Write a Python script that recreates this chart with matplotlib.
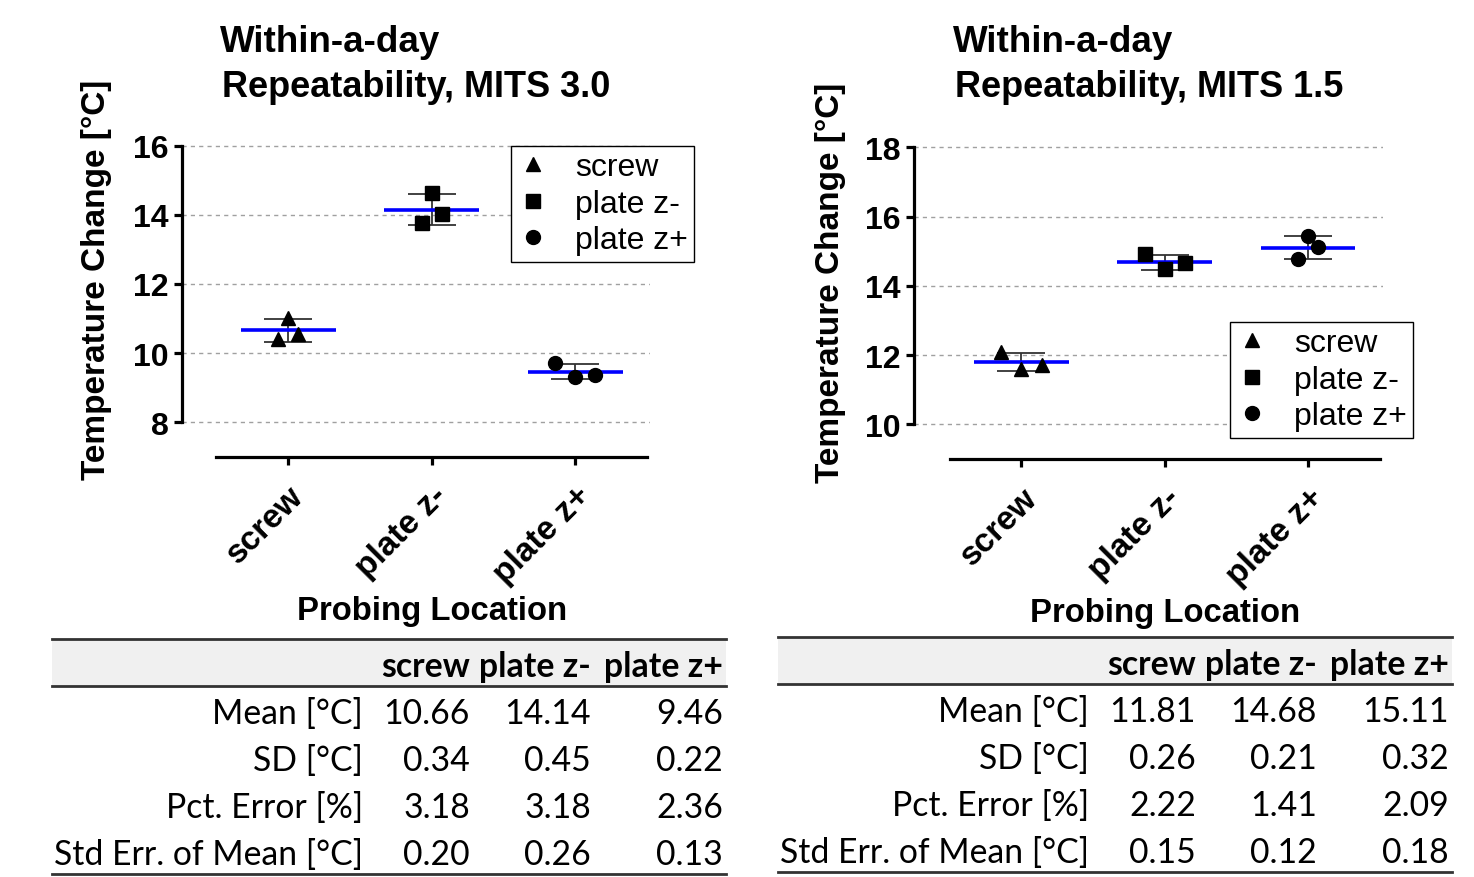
import numpy as np
import matplotlib
matplotlib.use('Agg')
import matplotlib.pyplot as plt
from matplotlib.patches import Rectangle

plt.rcParams['font.family'] = ['Liberation Sans', 'DejaVu Sans']

locations = ['screw', 'plate z-', 'plate z+']
markers = ['^', 's', 'o']
row_labels = ['Mean [°C]', 'SD [°C]', 'Pct. Error [%]', 'Std Err. of Mean [°C]']

# MITS 3.0 - three repeats per probing location
mits30_points = [[10.40, 11.02, 10.56], [13.76, 14.63, 14.03], [9.72, 9.30, 9.36]]
mits30_mean = [10.66, 14.14, 9.46]
mits30_sd = [0.34, 0.45, 0.22]
mits30_pct = [3.18, 3.18, 2.36]
mits30_sem = [0.20, 0.26, 0.13]

# MITS 1.5
mits15_points = [[12.10, 11.60, 11.73], [14.92, 14.48, 14.65], [14.78, 15.43, 15.12]]
mits15_mean = [11.81, 14.68, 15.11]
mits15_sd = [0.26, 0.21, 0.32]
mits15_pct = [2.22, 1.41, 2.09]
mits15_sem = [0.15, 0.12, 0.18]

W, H = 1474, 878
fig = plt.figure(figsize=(W / 100, H / 100), dpi=100)

# overlay in pixel coords for titles, labels and the tables
ov = fig.add_axes([0, 0, 1, 1], zorder=0)
ov.set_xlim(0, W)
ov.set_ylim(H, 0)
ov.axis('off')


def px_axes(left, top, right, bottom):
    return fig.add_axes([left / W, 1 - bottom / H, (right - left) / W, (bottom - top) / H], zorder=2)


def draw_panel(ax, points, means, sds, yticks, ylim, xlim, jitter, legend_xy):
    x = np.arange(len(locations))
    ax.errorbar(x, means, yerr=sds, fmt='none', ecolor='#333333', elinewidth=1.3,
                capsize=17, capthick=1.3, zorder=3)
    ax.hlines(means, x - 0.33, x + 0.33, color='#0000ff', lw=2.6, zorder=3.5)
    for i, loc in enumerate(locations):
        offs = np.array([-1, 0, 1]) * jitter[i]
        ax.plot(x[i] + offs, points[i], linestyle='none', marker=markers[i],
                color='black', markersize=10.5 if markers[i] == '^' else 10,
                zorder=4, label=loc, clip_on=False)

    ax.set_xlim(*xlim)
    ax.set_ylim(*ylim)
    ax.set_yticks(yticks)
    ax.set_xticks(x)
    ax.set_xticklabels(locations, rotation=45, ha='right', rotation_mode='anchor',
                       fontsize=24, fontweight='bold')
    for lab in ax.get_yticklabels():
        lab.set_fontsize(23)
        lab.set_fontweight('bold')

    for s in ['top', 'right']:
        ax.spines[s].set_visible(False)
    ax.spines['left'].set_bounds(yticks[0], yticks[-1])
    ax.spines['bottom'].set_bounds(-0.5, 2.5)
    ax.spines['left'].set_linewidth(2.3)
    ax.spines['bottom'].set_linewidth(2.3)
    ax.tick_params(axis='both', width=2.3, length=5.5)
    ax.tick_params(axis='y', pad=4)
    ax.tick_params(axis='x', pad=11)

    ax.yaxis.grid(True, linestyle=(0, (3, 3)), color='#a0a0a0', lw=1)
    ax.set_axisbelow(True)
    ax.patch.set_alpha(0)

    leg = ax.legend(loc='upper left', bbox_to_anchor=(legend_xy[0] / W, 1 - legend_xy[1] / H),
                    bbox_transform=fig.transFigure, fancybox=False, edgecolor='black',
                    framealpha=1, fontsize=23, handlelength=1, handletextpad=0.8,
                    borderpad=0.2, labelspacing=0.2, borderaxespad=0, numpoints=1)
    leg.get_frame().set_linewidth(1.0)


def draw_table(x0, y_top, means, sds, pcts, sems):
    width = 674
    header_h = 47
    ov.add_patch(Rectangle((x0, y_top), width, header_h, facecolor='#f0f0f0', lw=0))
    ov.plot([x0, x0 + width], [y_top, y_top], color='#333333', lw=2)
    ov.plot([x0, x0 + width], [y_top + header_h] * 2, color='#333333', lw=2)
    ov.plot([x0, x0 + width], [y_top + 235] * 2, color='#333333', lw=2)
    label_right = x0 + 311
    col_right = [x0 + 418, x0 + 539, x0 + 671]
    tfont = ['Lato', 'DejaVu Sans']
    for j, loc in enumerate(locations):
        ov.text(col_right[j], y_top + 37, loc, ha='right', va='baseline',
                fontsize=24.3, fontweight='bold', family=tfont)
    rows = [means, sds, pcts, sems]
    for i, (lab, vals) in enumerate(zip(row_labels, rows)):
        yb = y_top + 84 + 47 * i
        ov.text(label_right, yb, lab, ha='right', va='baseline', fontsize=24.3, family=tfont)
        for j, v in enumerate(vals):
            ov.text(col_right[j], yb, f'{v:.2f}', ha='right', va='baseline',
                    fontsize=24.3, family=tfont)


# left panel: MITS 3.0
ax1 = px_axes(182, 143.1, 650, 458)
draw_panel(ax1, mits30_points, mits30_mean, mits30_sd, [8, 10, 12, 14, 16],
           (7.0, 16.1), (-0.74, 2.52), [0.07, 0.07, 0.14], (511, 147))

# right panel: MITS 1.5
ax2 = px_axes(914, 145, 1382.6, 460)
draw_panel(ax2, mits15_points, mits15_mean, mits15_sd, [10, 12, 14, 16, 18],
           (9.0, 18.1), (-0.75, 2.52), [0.14, 0.14, 0.07], (1230, 323))

# titles and axis labels
for xl, t in [(220, 'MITS 3.0'), (953, 'MITS 1.5')]:
    ov.text(xl, 52, 'Within-a-day', fontsize=26.5, fontweight='bold', va='baseline')
    ov.text(xl + 2, 97, 'Repeatability, ' + t, fontsize=26, fontweight='bold', va='baseline')

for xc, yc in [(97, 280), (831, 283)]:
    ov.text(xc, yc, 'Temperature Change [°C]', rotation=90, ha='center', va='center',
            fontsize=24, fontweight='bold')

for xc, yc in [(432, 612), (1165, 614)]:
    ov.text(xc, yc, 'Probing Location', ha='center', va='center', fontsize=23.7, fontweight='bold')

draw_table(52, 640, mits30_mean, mits30_sd, mits30_pct, mits30_sem)
draw_table(778, 638, mits15_mean, mits15_sd, mits15_pct, mits15_sem)

fig.savefig('out.png', dpi=100)
